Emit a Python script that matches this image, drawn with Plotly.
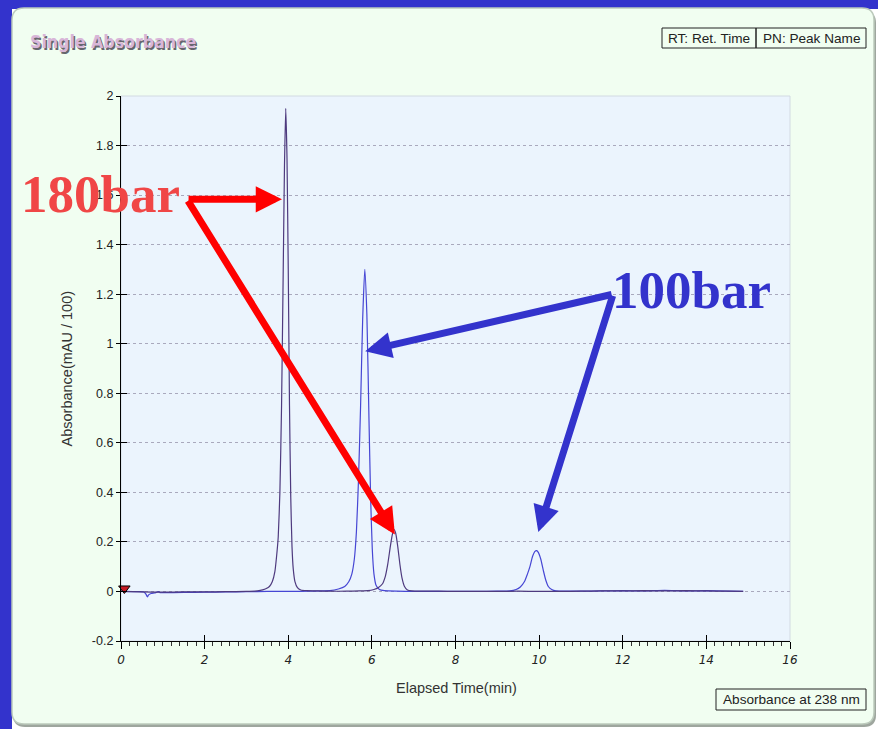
import plotly.graph_objects as go

# ---------------- data ----------------
t_180 = [0, 0.5, 1.0, 1.5, 2.0, 2.5, 3.0, 3.2, 3.30, 3.45, 3.55, 3.62, 3.68, 3.72, 3.76,
         3.80, 3.84, 3.88, 3.91, 3.94, 3.97, 4.00, 4.03, 4.06, 4.09, 4.12, 4.16, 4.22, 4.30,
         4.45, 4.7, 5.0, 5.4, 5.7, 5.9, 6.05, 6.15, 6.25, 6.32, 6.38, 6.44, 6.49, 6.53, 6.57,
         6.62, 6.67, 6.72, 6.78, 6.85, 6.95, 7.2, 7.6, 8.0, 8.5, 9.0, 9.5, 10.0, 10.5, 11.0,
         11.5, 12.0, 12.5, 13.0, 13.5, 14.0, 14.5, 14.88]
a_180 = [0.0, -0.002, -0.003, -0.002, -0.002, -0.001, 0.0, 0.001, 0.003, 0.01, 0.02, 0.04, 0.08, 0.14, 0.22,
         0.40, 0.75, 1.30, 1.72, 1.95, 1.75, 1.30, 0.75, 0.38, 0.18, 0.09, 0.04, 0.015, 0.006,
         0.003, 0.002, 0.001, 0.001, 0.002, 0.003, 0.008, 0.015, 0.03, 0.06, 0.11, 0.18, 0.23, 0.25, 0.235,
         0.18, 0.11, 0.055, 0.02, 0.006, 0.002, 0.001, 0.001, 0.0, 0.0, 0.0, 0.001, 0.0, 0.0, 0.001,
         0.002, 0.002, 0.003, 0.002, 0.003, 0.002, 0.001, 0.0]

t_100 = [0, 0.3, 0.55, 0.6, 0.63, 0.66, 0.72, 0.8, 0.86, 0.9, 0.94, 1.0, 1.5, 2.0, 2.5, 3.0,
         3.5, 4.0, 4.5, 5.0, 5.2, 5.35, 5.45, 5.52, 5.58, 5.63, 5.68, 5.73, 5.78, 5.83, 5.88,
         5.93, 5.97, 6.01, 6.05, 6.10, 6.18, 6.3, 6.6, 7.0, 7.5, 8.0, 8.5, 9.0, 9.3, 9.45, 9.55,
         9.65, 9.72, 9.78, 9.84, 9.90, 9.94, 9.98, 10.04, 10.10, 10.16, 10.22, 10.30, 10.40,
         10.7, 11.0, 11.5, 12.0, 12.5, 13.0, 13.5, 14.0, 14.5, 14.88]
a_100 = [0.0, -0.001, -0.002, -0.012, -0.022, -0.014, -0.008, -0.006, -0.003, -0.001, -0.005, -0.005, -0.004, -0.003, -0.002, -0.001,
         0.0, 0.0, 0.001, 0.003, 0.01, 0.02, 0.04, 0.07, 0.13, 0.24, 0.45, 0.75, 1.10, 1.30, 1.12,
         0.70, 0.38, 0.17, 0.07, 0.025, 0.008, 0.003, 0.001, 0.0, 0.0, 0.0, 0.0, 0.001, 0.002, 0.008, 0.018,
         0.04, 0.07, 0.10, 0.14, 0.162, 0.165, 0.158, 0.13, 0.085, 0.045, 0.02, 0.008, 0.002,
         0.001, 0.001, 0.002, 0.003, 0.002, 0.004, 0.002, 0.003, 0.001, 0.0]

inject_t = [0.08]
inject_a = [0.012]

x_tick_vals = [0, 2, 4, 6, 8, 10, 12, 14, 16]
x_tick_text = ["0", "2", "4", "6", "8", "10", "12", "14", "16"]
y_tick_vals = [-0.2, 0, 0.2, 0.4, 0.6, 0.8, 1.0, 1.2, 1.4, 1.6, 1.8, 2.0]
y_tick_text = ["-0.2", "0", "0.2", "0.4", "0.6", "0.8", "1", "1.2", "1.4", "1.6", "1.8", "2"]

# ---------------- layout helpers ----------------
W, H = 878, 729
L, R, T, B = 121, 790, 96, 641  # plot-area pixel bounds


def fx(p):
    return (p - L) / (R - L)


def fy(p):
    return (B - p) / (B - T)


def rounded_path(x0, y0, x1, y1, r):
    return (f"M {fx(x0 + r)},{fy(y0)} L {fx(x1 - r)},{fy(y0)} Q {fx(x1)},{fy(y0)} {fx(x1)},{fy(y0 + r)} "
            f"L {fx(x1)},{fy(y1 - r)} Q {fx(x1)},{fy(y1)} {fx(x1 - r)},{fy(y1)} "
            f"L {fx(x0 + r)},{fy(y1)} Q {fx(x0)},{fy(y1)} {fx(x0)},{fy(y1 - r)} "
            f"L {fx(x0)},{fy(y0 + r)} Q {fx(x0)},{fy(y0)} {fx(x0 + r)},{fy(y0)} Z")


def prect(x0, y0, x1, y1, fill, line_color=None, lw=0):
    return dict(type="rect", xref="paper", yref="paper", x0=fx(x0), x1=fx(x1), y0=fy(y1), y1=fy(y0),
                fillcolor=fill, line=dict(color=line_color or fill, width=lw), layer="below")


def label(px, py, text, font, xanchor="center", **kw):
    return dict(x=fx(px), y=fy(py), xref="paper", yref="paper", xanchor=xanchor, yanchor="middle",
                text=text, showarrow=False, font=font, **kw)


BLUE = "#3333cc"

fig = go.Figure()
fig.add_trace(go.Scatter(x=t_100, y=a_100, mode="lines", name="100bar",
                         line=dict(color="#4646d4", width=1.2, shape="spline", smoothing=0.5)))
fig.add_trace(go.Scatter(x=t_180, y=a_180, mode="lines", name="180bar",
                         line=dict(color="#4e3a7e", width=1.2, shape="spline", smoothing=0.5)))
fig.add_trace(go.Scatter(x=inject_t, y=inject_a, mode="markers", cliponaxis=False,
                         marker=dict(symbol="triangle-down", size=10, color="#c41a24",
                                     line=dict(color="black", width=1))))
fig.add_trace(go.Scatter(x=[], y=[], xaxis="x2", yaxis="y2", showlegend=False))

shapes = [
    prect(0, 0, W, 9, BLUE),
    prect(0, 0, 12, H, BLUE),
    dict(type="path", xref="paper", yref="paper", path=rounded_path(13, 11, 876, 727, 12),
         fillcolor="#9ea69e", line=dict(width=0), layer="below"),
    dict(type="path", xref="paper", yref="paper", path=rounded_path(12, 8, 874, 724, 12),
         fillcolor="#f1fef1", line=dict(color="#bccabc", width=1.5), layer="below"),
    dict(type="rect", xref="paper", yref="paper", x0=0, x1=1, y0=0, y1=1,
         fillcolor="#ebf4fd", line=dict(color="#d2dae2", width=1), layer="below"),
    prect(662, 28, 756, 48, "rgba(0,0,0,0)", "#222222", 1),
    prect(756, 28, 866, 48, "rgba(0,0,0,0)", "#222222", 1),
    prect(716, 689, 866, 710, "rgba(0,0,0,0)", "#222222", 1),
]

txt_font = dict(family="Liberation Sans, Arial, sans-serif", size=13.6, color="#222222")
axis_title_font = dict(family="Liberation Sans, Arial, sans-serif", size=14.5, color="#333333")
title_family = "DejaVu Sans Condensed, Liberation Sans Narrow, DejaVu Sans"
annotations = [
    label(28, 42, "<b>Single Absorbance</b>",
          dict(family=title_family, size=17.6, color="#d8b6d8", shadow="1.5px 1.5px 0.5px #66666e"),
          xanchor="left"),
    label(709, 38, "RT: Ret. Time", txt_font),
    label(811, 38, "PN: Peak Name", txt_font),
    label(791, 699.5, "Absorbance at 238 nm", txt_font),
    label(456, 688, "Elapsed Time(min)", axis_title_font),
    label(66, 368.5, "Absorbance(mAU / 100)", axis_title_font, textangle=-90),
    label(19, 194, "<b>180bar</b>", dict(family="Liberation Serif, Times New Roman, serif", size=53,
                                         color="#f04646"), xanchor="left"),
    label(610, 290, "<b>100bar</b>", dict(family="Liberation Serif, Times New Roman, serif", size=53,
                                          color=BLUE), xanchor="left"),
]

arrow_style = dict(xref="x", yref="y", axref="x", ayref="y", text="", showarrow=True,
                   arrowhead=2, arrowsize=0.75, arrowwidth=7, standoff=0)
for (tx, ty, sx, sy, col) in [(3.85, 1.583, 1.58, 1.583, "#ff0000"),
                              (6.55, 0.23, 1.58, 1.583, "#ff0000"),
                              (5.84, 0.97, 11.77, 1.20, BLUE),
                              (9.98, 0.24, 11.77, 1.20, BLUE)]:
    annotations.append(dict(x=tx, y=ty, ax=sx, ay=sy, arrowcolor=col, **arrow_style))

fig.update_layout(
    width=W, height=H,
    margin=dict(l=L, r=W - R, t=T, b=H - B, pad=0),
    paper_bgcolor="white",
    plot_bgcolor="rgba(0,0,0,0)",
    showlegend=False,
    shapes=shapes,
    annotations=annotations,
    xaxis=dict(range=[0, 16], tickvals=x_tick_vals, ticktext=x_tick_text,
               showgrid=False, zeroline=False, showline=True, linecolor="black", linewidth=1.2,
               ticks="outside", ticklen=7, tickcolor="black", tickwidth=1.2,
               minor=dict(ticks="outside", ticklen=4, dtick=0.2, tick0=0, tickcolor="#333333",
                          tickwidth=1, showgrid=False),
               tickfont=dict(family="DejaVu Sans, sans-serif", size=12, color="#222222", style="italic")),
    yaxis=dict(range=[-0.2, 2], tickvals=y_tick_vals, ticktext=y_tick_text,
               showgrid=True, gridcolor="#a9a9bd", griddash="dot", gridwidth=1,
               zeroline=False, showline=True, linecolor="black", linewidth=1.2,
               ticks="outside", ticklen=4, tickcolor="black", tickwidth=1.2,
               tickfont=dict(family="Liberation Sans, Arial, sans-serif", size=12.5, color="#222222")),
    xaxis2=dict(range=[0, 16], overlaying="x", anchor="y", side="bottom", tickvals=x_tick_vals,
                showticklabels=False, showgrid=False, zeroline=False, showline=False,
                ticks="inside", ticklen=6, tickcolor="black", tickwidth=1.2),
    yaxis2=dict(range=[-0.2, 2], overlaying="y", anchor="x", side="left", tickvals=y_tick_vals,
                showticklabels=False, showgrid=False, zeroline=False, showline=False,
                ticks="inside", ticklen=6, tickcolor="black", tickwidth=1.2),
)

fig.write_html("out.html", config={"displayModeBar": False},
               post_script="document.body.style.margin='0';document.body.style.overflow='hidden';")
